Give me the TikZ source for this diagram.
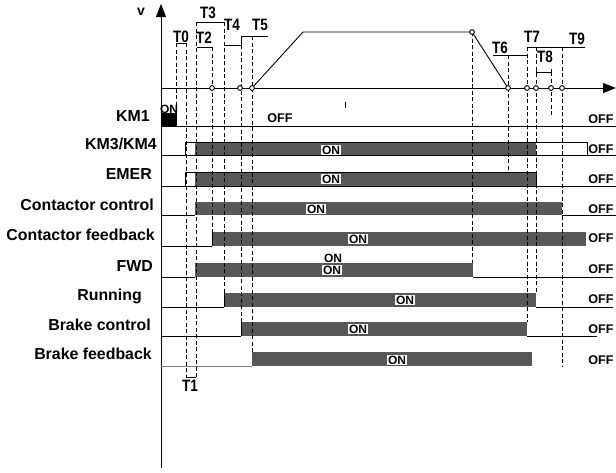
\documentclass[tikz,border=0pt]{standalone}
\usepackage{fontspec}
\setmainfont{Liberation Sans}
\usepackage{graphicx}
\usetikzlibrary{arrows.meta}
\definecolor{barc}{RGB}{88,88,88}
\begin{document}
\begin{tikzpicture}[x=1pt,y=-1pt,
  lab/.style={anchor=east, inner sep=0pt, font=\fontsize{15.9}{18}\selectfont\bfseries},
  offl/.style={inner sep=0pt, font=\fontsize{12.6}{14}\selectfont\bfseries},
  onl/.style={inner sep=0.7pt, fill=white, font=\fontsize{12}{13}\selectfont\bfseries},
  tl/.style={inner sep=0pt, font=\fontsize{16.5}{17}\selectfont\bfseries},
  bar/.style={fill=barc, draw=none},
  sig/.style={draw=black, line width=0.9pt},
  dl/.style={draw=black, line width=0.8pt, dash pattern=on 4pt off 2.5pt},
  brk/.style={draw=black, line width=0.9pt},
  pt/.style={draw=black, fill=white, line width=0.9pt}]
\useasboundingbox (0,0) rectangle (616,472);

% axes
\coordinate (vtop) at (161,4);
\coordinate (vbot) at (161,468);
\coordinate (hl) at (161,88);
\coordinate (hr) at (616,88);
\draw[line width=0.9pt,-{Triangle[length=13pt,width=10pt]}] (vbot) -- (vtop);
\draw[line width=0.9pt,-{Triangle[length=13pt,width=10pt]}] (hl) -- (hr);
\node[inner sep=0pt, font=\fontsize{14}{15}\selectfont\bfseries] (vlab) at (141,12) {v};

% baselines
\draw[sig] (161,126) -- (616,126);
\draw[sig] (161,155) -- (616,155);
\draw[sig] (161,186) -- (616,186);
\draw[sig] (161,215) -- (195,215) (562,215) -- (616,215);
\draw[sig] (161,246) -- (212,246);
\draw[sig] (161,277) -- (195,277) (473,277) -- (613,277);
\draw[sig] (161,307) -- (224,307) (536,307) -- (613,307);
\draw[sig] (161,336) -- (241,336) (527,336) -- (597,336);
\draw[draw=gray, line width=0.9pt] (161,366) -- (252,366);

% bars
\fill[black] (161,113) rectangle (177,126);
\fill[bar] (195,142) rectangle (536,155);
\fill[bar] (195,172) rectangle (536,186);
\fill[bar] (195,202) rectangle (562,215);
\fill[bar] (212,232) rectangle (586,246);
\fill[bar] (195,263) rectangle (473,277);
\fill[bar] (224,293) rectangle (536,307);
\fill[bar] (241,322) rectangle (527,336);
\fill[bar] (252,352) rectangle (532,366);

% signal outlines
\draw[sig] (185,155) -- (185,142) -- (587,142) -- (587,155);
\draw[sig] (185,186) -- (185,172) -- (536,172) -- (536,186);
\draw[sig] (212,246) -- (212,232);
\draw[sig] (224,307) -- (224,293);
\draw[sig] (241,336) -- (241,322);

% velocity profile
\draw[line width=0.9pt] (252,88) -- (303,32) -- (472,32) -- (508,88);

% dashed timing lines
\draw[dl] (176,43) -- (176,113);
\draw[dl] (186,43) -- (186,377);
\draw[dl] (196,22) -- (196,377);
\draw[dl] (212,47) -- (212,232);
\draw[dl] (224,22) -- (224,293);
\draw[dl] (241,45) -- (241,322);
\draw[dl] (252,36) -- (252,352);
\draw[dl] (472,32) -- (472,263);
\draw[dl] (508,55) -- (508,172);
\draw[dl] (527,47) -- (527,322);
\draw[dl] (536,47) -- (536,293);
\draw[dl] (551,72) -- (551,115);
\draw[dl] (562,47) -- (562,367);
\draw[line width=0.8pt] (345,102) -- (345,108);

% brackets
\draw[brk] (176,43) -- (186,43);
\draw[brk] (196,22) -- (224,22);
\draw[brk] (197,47) -- (212,47) -- (212,50);
\draw[brk] (224,45) -- (241,45) -- (241,36) -- (268,36);
\draw[brk] (186,377) -- (196,377);
\draw[brk] (493,55) -- (527,55);
\draw[brk] (527,47) -- (585,47);
\draw[brk] (536,69) -- (536,75) (536,72) -- (551,72) (551,69) -- (551,75);

% points
\foreach \x/\n in {212/a,240/b,252/c,508/d,527/e,536/f,551/g,562/h}
  \draw[pt] (\x,88) circle (2.4);
\draw[pt] (472,32) circle (2.4);

% T labels
\node[tl] (t0) at (181,37) {\scalebox{0.82}[1]{T0}};
\node[tl] (t1) at (190,386) {\scalebox{0.82}[1]{T1}};
\node[tl] (t2) at (204,38) {\scalebox{0.82}[1]{T2}};
\node[tl] (t3) at (208,13) {\scalebox{0.82}[1]{T3}};
\node[tl] (t4) at (232,25) {\scalebox{0.82}[1]{T4}};
\node[tl] (t5) at (260,25) {\scalebox{0.82}[1]{T5}};
\node[tl] (t6) at (500,48) {\scalebox{0.82}[1]{T6}};
\node[tl] (t7) at (532,37) {\scalebox{0.82}[1]{T7}};
\node[tl] (t8) at (545,57) {\scalebox{0.82}[1]{T8}};
\node[tl] (t9) at (577,39) {\scalebox{0.82}[1]{T9}};

% row labels
\node[lab] (l1) at (150,116) {KM1};
\node[lab] (l2) at (157,144) {KM3/KM4};
\node[lab] (l3) at (152,174) {EMER};
\node[lab] (l4) at (154,205) {Contactor control};
\node[lab] (l5) at (155,235) {Contactor feedback};
\node[lab] (l6) at (153,266) {FWD};
\node[lab] (l7) at (142,296) {Running};
\node[lab] (l8) at (151,325) {Brake control};
\node[lab] (l9) at (152,354) {Brake feedback};

% OFF labels
\node[offl] (o0) at (280,118) {OFF};
\node[offl] (o1) at (601,119) {OFF};
\node[offl] (o2) at (601,149) {OFF};
\node[offl] (o3) at (601,179) {OFF};
\node[offl] (o4) at (601,209) {OFF};
\node[offl] (o5) at (601,238) {OFF};
\node[offl] (o6) at (601,269) {OFF};
\node[offl] (o7) at (601,299) {OFF};
\node[offl] (o8) at (601,329) {OFF};
\node[offl] (o9) at (601,360) {OFF};

% ON labels
\node[onl, fill=none] (n1) at (169,109) {ON};
\node[onl] (n2) at (331,150) {ON};
\node[onl] (n3) at (331,179) {ON};
\node[onl] (n4) at (316,209) {ON};
\node[onl] (n5) at (358,239) {ON};
\node[onl, fill=none] (n6a) at (333,258) {ON};
\node[onl] (n6) at (332,270) {ON};
\node[onl] (n7) at (405,300) {ON};
\node[onl] (n8) at (358,329) {ON};
\node[onl] (n9) at (397,360) {ON};
\end{tikzpicture}
\end{document}
